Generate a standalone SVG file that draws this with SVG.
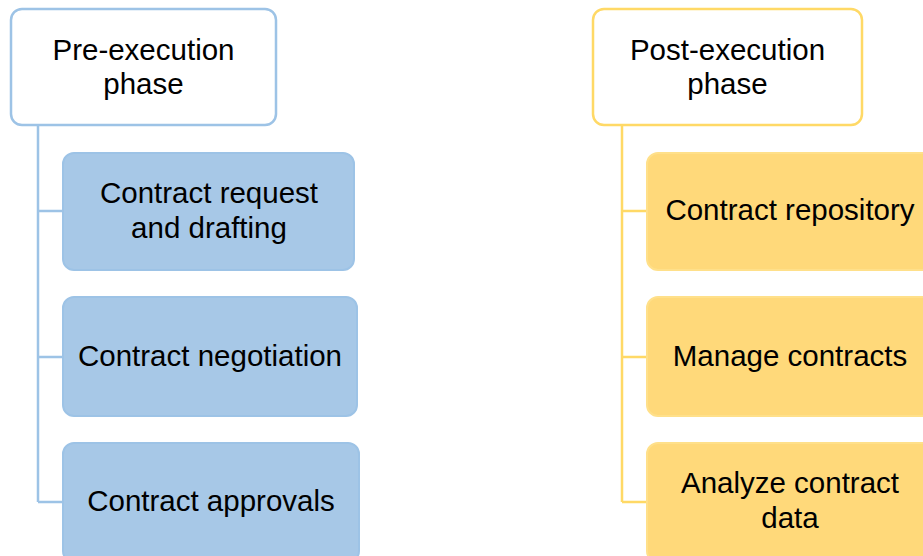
<svg xmlns="http://www.w3.org/2000/svg" width="923" height="556" viewBox="0 0 923 556">
<style>
text{font-family:"Liberation Sans",Arial,sans-serif;font-size:29.5px;fill:#000;text-anchor:middle}
.hb{fill:#fff;stroke:#9DC3E6;stroke-width:2.5}
.hy{fill:#fff;stroke:#FFD966;stroke-width:2.5}
.cb{fill:#A7C8E7;stroke:#9DC3E6;stroke-width:2}
.cy{fill:#FFD97A;stroke:#FFE08A;stroke-width:2}
.lb{fill:none;stroke:#9DC3E6;stroke-width:2.5}
.ly{fill:none;stroke:#FFD966;stroke-width:2.5}
</style>
<g id="connectors">
<path class="lb" d="M38 125V502M38 211H63M38 357H63M38 502H63"/>
<path class="ly" d="M622 125V502M622 211H647M622 357H647M622 502H647"/>
</g>
<g id="pre">
<rect class="hb" x="11" y="9" width="265" height="116" rx="11"/>
<text x="143.5" y="60">Pre-execution</text>
<text x="143.5" y="94">phase</text>
</g>
<g id="pre1">
<rect class="cb" x="63" y="153" width="291" height="117" rx="11"/>
<text x="209" y="203">Contract request</text>
<text x="209" y="238">and drafting</text>
</g>
<g id="pre2">
<rect class="cb" x="63" y="297" width="294" height="119" rx="11"/>
<text x="210" y="366">Contract negotiation</text>
</g>
<g id="pre3">
<rect class="cb" x="63" y="443" width="296" height="119" rx="11"/>
<text x="211" y="511">Contract approvals</text>
</g>
<g id="post">
<rect class="hy" x="593" y="9" width="269" height="116" rx="11"/>
<text x="727.5" y="60">Post-execution</text>
<text x="727.5" y="94">phase</text>
</g>
<g id="post1">
<rect class="cy" x="647" y="153" width="290" height="117" rx="11"/>
<text x="790" y="220">Contract repository</text>
</g>
<g id="post2">
<rect class="cy" x="647" y="297" width="290" height="119" rx="11"/>
<text x="790" y="366">Manage contracts</text>
</g>
<g id="post3">
<rect class="cy" x="647" y="443" width="290" height="119" rx="11"/>
<text x="790" y="493">Analyze contract</text>
<text x="790" y="528">data</text>
</g>
</svg>
